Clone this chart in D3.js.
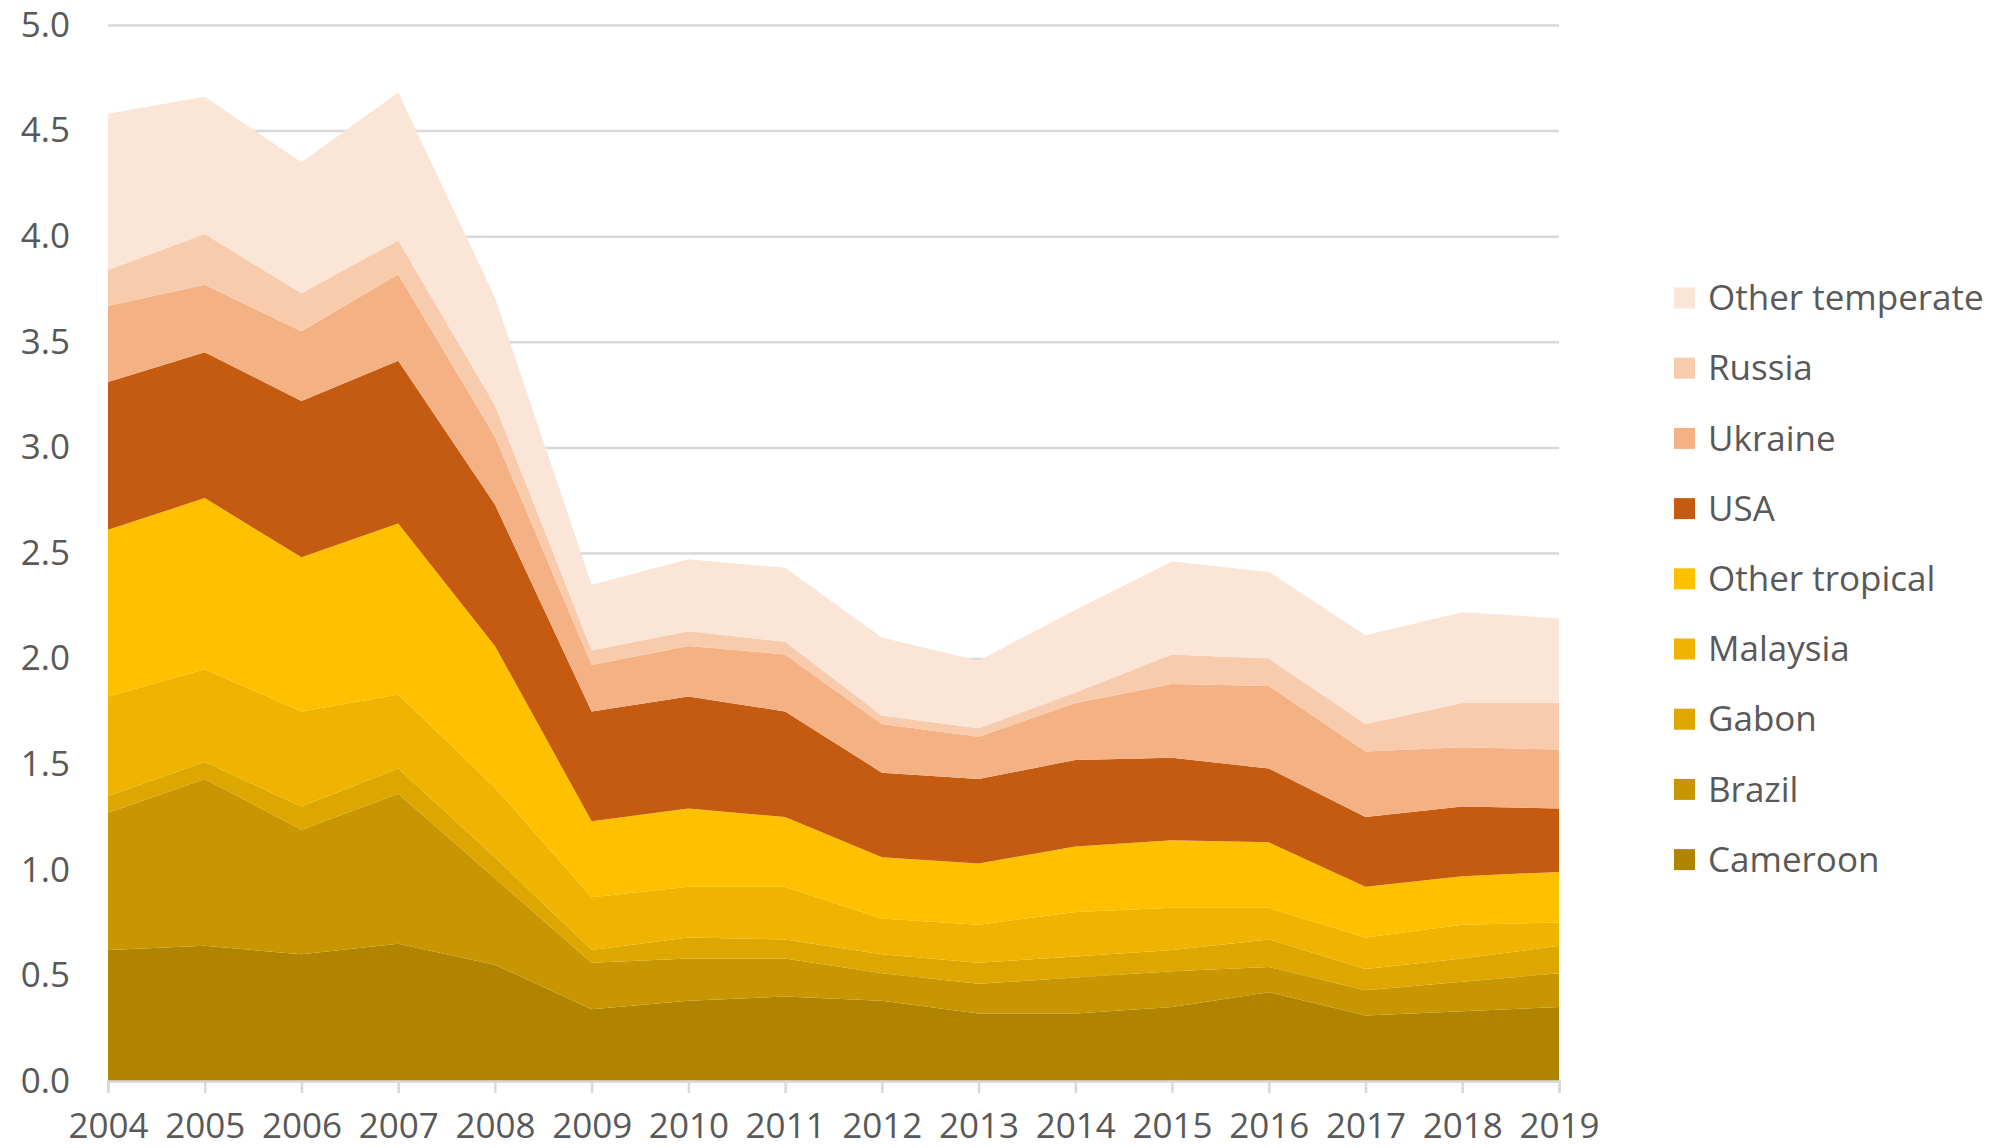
<!DOCTYPE html>
<html><head><meta charset="utf-8">
<script src="https://cdn.jsdelivr.net/npm/d3@7"></script>
<style>
body{margin:0;background:#fff;}
text{font-family:"Open Sans",sans-serif;}
</style>
</head><body>
<svg id="chart" width="2000" height="1148"></svg>
<script>
const years = [2004,2005,2006,2007,2008,2009,2010,2011,2012,2013,2014,2015,2016,2017,2018,2019];
const cameroon       = [0.62,0.64,0.60,0.65,0.55,0.34,0.38,0.40,0.38,0.32,0.32,0.35,0.42,0.31,0.33,0.35];
const brazil         = [0.65,0.79,0.59,0.71,0.41,0.22,0.20,0.18,0.13,0.14,0.17,0.17,0.12,0.12,0.14,0.16];
const gabon          = [0.08,0.08,0.11,0.12,0.10,0.06,0.10,0.09,0.09,0.10,0.10,0.10,0.13,0.10,0.11,0.13];
const malaysia       = [0.47,0.44,0.45,0.35,0.33,0.25,0.24,0.25,0.17,0.18,0.21,0.20,0.15,0.15,0.16,0.11];
const otherTropical  = [0.79,0.81,0.73,0.81,0.67,0.36,0.37,0.33,0.29,0.29,0.31,0.32,0.31,0.24,0.23,0.24];
const usa            = [0.70,0.69,0.74,0.77,0.67,0.52,0.53,0.50,0.40,0.40,0.41,0.39,0.35,0.33,0.33,0.30];
const ukraine        = [0.36,0.32,0.33,0.41,0.32,0.22,0.24,0.27,0.23,0.20,0.27,0.35,0.39,0.31,0.28,0.28];
const russia         = [0.17,0.24,0.18,0.16,0.15,0.07,0.07,0.06,0.04,0.04,0.05,0.14,0.13,0.13,0.21,0.22];
const otherTemperate = [0.74,0.65,0.62,0.70,0.51,0.31,0.34,0.35,0.37,0.32,0.39,0.44,0.41,0.42,0.43,0.40];

const seriesNames = ["Cameroon","Brazil","Gabon","Malaysia","Other tropical","USA","Ukraine","Russia","Other temperate"];
const seriesValues = [cameroon,brazil,gabon,malaysia,otherTropical,usa,ukraine,russia,otherTemperate];
const seriesColors = ["#b08400","#c89600","#dda600","#f0b400","#ffc000","#c55a11","#f4b183","#f8cbad","#fbe5d6"];
const yTicks = [0,0.5,1,1.5,2,2.5,3,3.5,4,4.5,5];

const rows = years.map((yr,i)=>{
  const r = {year:yr};
  seriesNames.forEach((n,k)=>{ r[n] = seriesValues[k][i]; });
  return r;
});

const svg = d3.select("#chart");
const plotLeft = 108, plotRight = 1559, plotTop = 25, plotBottom = 1081;
const x = d3.scaleLinear().domain([2004,2019]).range([plotLeft,plotRight]);
const y = d3.scaleLinear().domain([0,5]).range([plotBottom,plotTop]);

// gridlines + y labels
const gy = svg.append("g").attr("transform",`translate(${plotLeft},0)`)
  .call(d3.axisLeft(y).tickValues(yTicks).tickFormat(d3.format(".1f"))
    .tickSize(-(plotRight-plotLeft)).tickPadding(38));
gy.select(".domain").remove();
gy.selectAll(".tick line").attr("stroke","#d9d9d9").attr("stroke-width",2.5);
gy.selectAll(".tick text").attr("fill","#595959").attr("font-size",35)
  .attr("font-family","'Open Sans',sans-serif");

// stacked areas
const stack = d3.stack().keys(seriesNames);
const layers = stack(rows);
const area = d3.area()
  .x(d=>x(d.data.year))
  .y0(d=>y(d[0]))
  .y1(d=>y(d[1]));
svg.append("g").selectAll("path").data(layers).join("path")
  .attr("d",area)
  .attr("fill",(d,i)=>seriesColors[i]);

// x axis
const gx = svg.append("g").attr("transform",`translate(0,${plotBottom})`)
  .call(d3.axisBottom(x).tickValues(years).tickFormat(d3.format("d"))
    .tickSize(12).tickPadding(20));
gx.select(".domain").attr("stroke","#d9d9d9").attr("stroke-width",2.5);
gx.selectAll(".tick line").attr("stroke","#d9d9d9").attr("stroke-width",2.5);
gx.selectAll(".tick text").attr("fill","#595959").attr("font-size",35)
  .attr("font-family","'Open Sans',sans-serif");

// legend (top to bottom = reverse stack order)
const legendOrder = seriesNames.map((n,i)=>i).reverse();
const lg = svg.append("g");
legendOrder.forEach((k,j)=>{
  const cy = 298 + j*70.2;
  lg.append("rect").attr("x",1674).attr("y",cy-10.5).attr("width",21).attr("height",21)
    .attr("fill",seriesColors[k]);
  lg.append("text").attr("x",1708).attr("y",cy).attr("dy","0.35em")
    .attr("fill","#595959").attr("font-size",35).text(seriesNames[k]);
});
</script>
</body></html>
